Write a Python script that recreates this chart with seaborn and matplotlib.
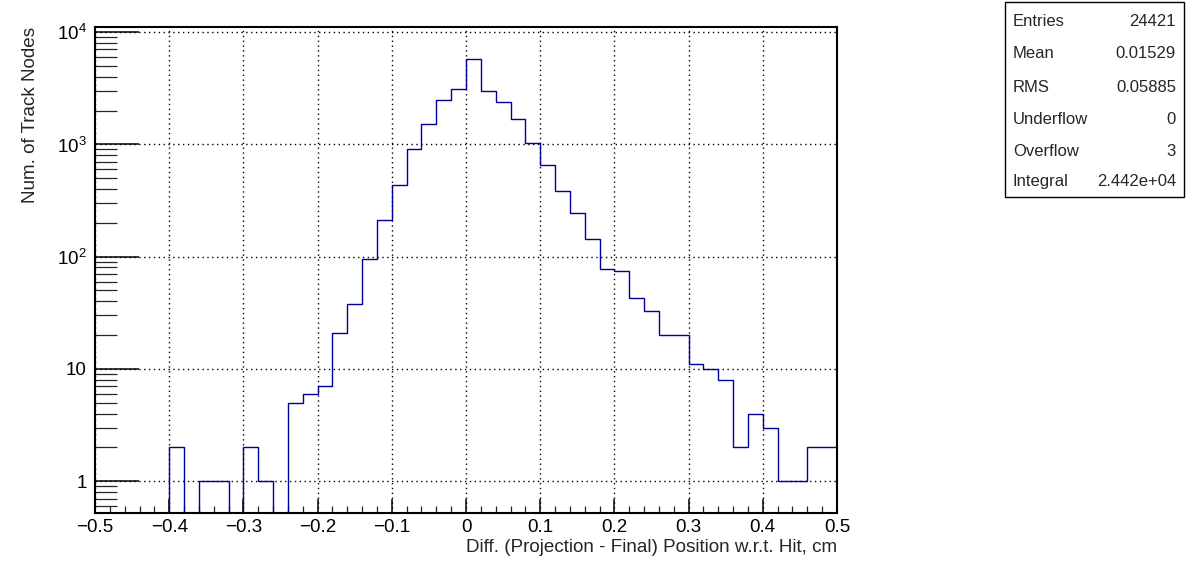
import numpy as np
import pandas as pd
import matplotlib
matplotlib.use('Agg')
import matplotlib.pyplot as plt
import matplotlib.ticker as mticker
from matplotlib.patches import Rectangle
import seaborn as sns

# bins: 50 bins of 0.02 from -0.5 to 0.5
bin_lo = -0.5
bin_hi = 0.5
bin_w = 0.02
counts = [0, 0, 0, 0, 0, 2, 0, 1, 1, 0,
          2, 1, 0, 5, 6, 7, 21, 38, 95, 213,
          437, 916, 1531, 2506, 3143, 5700, 2972, 2371, 1672, 1035,
          659, 386, 245, 144, 77, 74, 43, 33, 20, 20,
          11, 10, 8, 2, 4, 3, 1, 1, 2, 2]

stat_names = ['Entries', 'Mean', 'RMS', 'Underflow', 'Overflow', 'Integral']
stat_values = ['24421', '0.01529', '0.05885', '0', '3', '2.442e+04']

x_title = 'Diff. (Projection - Final) Position w.r.t. Hit, cm'
y_title = 'Num. of Track Nodes'

sns.set_theme(style='ticks')
plt.rcParams['font.family'] = ['Liberation Sans', 'DejaVu Sans']
plt.rcParams['axes.unicode_minus'] = True
plt.rcParams['mathtext.fontset'] = 'custom'
plt.rcParams['mathtext.rm'] = 'Liberation Sans'

centers = bin_lo + bin_w * (np.arange(len(counts)) + 0.5)
df = pd.DataFrame({'x': centers, 'n': np.array(counts, dtype=float)})

fig = plt.figure(figsize=(11.96, 5.72), dpi=100)
ax = fig.add_axes([95 / 1196, 1 - 513 / 572, (837 - 95) / 1196, (513 - 27) / 572])
ax.set_yscale('log', nonpositive='clip')

sns.histplot(data=df, x='x', weights='n', binwidth=bin_w, binrange=(bin_lo, bin_hi),
             element='step', fill=False, color='#000099', linewidth=1.0, ax=ax)

ax.set_xlim(bin_lo, bin_hi)
ax.set_ylim(0.52, 11100)

# ticks, ROOT style (inward)
ax.xaxis.set_major_locator(mticker.MultipleLocator(0.1))
ax.xaxis.set_minor_locator(mticker.MultipleLocator(0.02))
ax.yaxis.set_major_locator(mticker.LogLocator(base=10, numticks=10))
ax.yaxis.set_minor_locator(mticker.LogLocator(base=10, subs=np.arange(2, 10), numticks=20))


def ylab(v, pos):
    if v < 0.99 or v > 1e5:
        return ''
    e = int(round(np.log10(v)))
    if e == 0:
        return '1'
    if e == 1:
        return '10'
    return r'$10^{%d}$' % e


def xlab(v, pos):
    if abs(v) < 1e-9:
        return '0'
    return ('%.1f' % v).replace('-', '\u2212')


ax.yaxis.set_major_formatter(mticker.FuncFormatter(ylab))
ax.yaxis.set_minor_formatter(mticker.NullFormatter())
ax.xaxis.set_major_formatter(mticker.FuncFormatter(xlab))

ax.tick_params(axis='x', which='major', direction='in', length=10, width=1.1,
               labelsize=13.5, pad=4, colors='black')
ax.tick_params(axis='x', which='minor', direction='in', length=5, width=0.9)
ax.tick_params(axis='y', which='major', direction='in', length=32, width=1.1,
               labelsize=13.5, pad=6, colors='black')
ax.tick_params(axis='y', which='minor', direction='in', length=16, width=0.9)

ax.grid(True, which='major', color='black', linestyle=(0, (1, 2.5)), linewidth=1.0)
for s in ax.spines.values():
    s.set_linewidth(1.5)
    s.set_color('black')
ax.set_facecolor('white')

ax.set_xlabel('')
ax.set_ylabel('')
fig.text(837 / 1196, 1 - 547 / 572, x_title, ha='right', va='center', fontsize=13.6)
fig.text(31 / 1196, 1 - 27 / 572, y_title, ha='center', va='top', rotation=90, fontsize=13.6)

# stats box
box_x0, box_y0, box_x1, box_y1 = 1005, 2, 1184, 197
fig.add_artist(Rectangle((box_x0 / 1196, 1 - box_y1 / 572),
                         (box_x1 - box_x0) / 1196, (box_y1 - box_y0) / 572,
                         transform=fig.transFigure, facecolor='white',
                         edgecolor='black', linewidth=1.0))
row_y = [22, 54, 87, 119, 151, 182]
for name, val, yy in zip(stat_names, stat_values, row_y):
    fig.text(1013 / 1196, 1 - yy / 572, name, ha='left', va='center', fontsize=12)
    fig.text(1176 / 1196, 1 - yy / 572, val, ha='right', va='center', fontsize=12)

fig.savefig('out.png', dpi=100, facecolor='white')
